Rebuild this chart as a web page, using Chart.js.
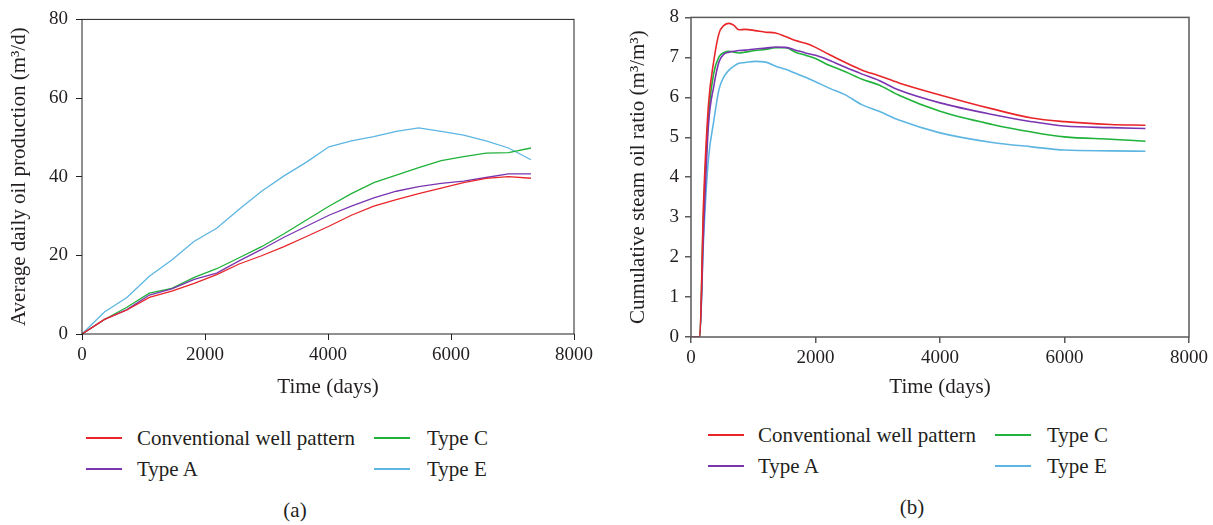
<!DOCTYPE html>
<html>
<head>
<meta charset="utf-8">
<script src="https://cdn.jsdelivr.net/npm/chart.js@4/dist/chart.umd.min.js"></script>
<style>
  body { margin: 0; background: #fff; }
  #page { position: relative; width: 1213px; height: 525px; overflow: hidden; font-family: 'Liberation Serif', serif; color: #231f20; }
  canvas { position: absolute; top: 0; }
  .key { position: absolute; font-size: 21px; line-height: 24px; white-space: nowrap; }
  .swatch { position: absolute; width: 36px; height: 2px; }
  .caption { position: absolute; font-size: 21px; line-height: 24px; transform: translateX(-50%); }
</style>
</head>
<body>
<div id="page">
  <canvas id="prodChart" width="600" height="400" style="left:0"></canvas>
  <canvas id="sorChart" width="613" height="400" style="left:600px"></canvas>
</div>
<script>
// series names and colours shared by both panels
const seriesNames = ['Conventional well pattern', 'Type A', 'Type C', 'Type E'];
const seriesColors = ['#e8262a', '#7a35b0', '#20b23a', '#5db6e2'];

// (a) average daily oil production, sampled yearly
const prodDays = [0, 365, 730, 1095, 1460, 1825, 2190, 2555, 2920, 3285, 3650, 4015, 4380, 4745, 5110, 5475, 5840, 6205, 6570, 6935, 7300];
const prodConventional = [0, 3.7, 6.1, 9.3, 10.9, 12.9, 15.1, 17.8, 19.9, 22.2, 24.8, 27.4, 30.2, 32.5, 34.2, 35.7, 37.1, 38.5, 39.6, 40.0, 39.6];
const prodTypeA = [0, 3.7, 6.2, 9.9, 11.5, 13.9, 15.5, 18.6, 21.5, 24.6, 27.4, 30.2, 32.5, 34.6, 36.3, 37.5, 38.3, 38.9, 39.8, 40.7, 40.7];
const prodTypeC = [0, 3.7, 6.8, 10.4, 11.6, 14.4, 16.6, 19.4, 22.2, 25.5, 29.0, 32.5, 35.7, 38.5, 40.4, 42.3, 44.1, 45.1, 46.0, 46.1, 47.3];
const prodTypeE = [0, 5.6, 9.3, 14.7, 18.8, 23.6, 26.9, 31.7, 36.3, 40.2, 43.7, 47.6, 49.1, 50.2, 51.5, 52.4, 51.5, 50.6, 49.1, 47.3, 44.3];

// (b) cumulative steam oil ratio
const sorDays = [0, 140, 200, 280, 365, 450, 530, 610, 690, 770, 870, 1030, 1200, 1360, 1520, 1680, 1840, 2000, 2220, 2480, 2750, 3020, 3340, 4000, 4840, 5475, 6000, 6740, 7300];
const sorConventional = [0, 0, 3.3, 5.8, 6.9, 7.6, 7.8, 7.85, 7.8, 7.69, 7.7, 7.67, 7.63, 7.61, 7.52, 7.42, 7.35, 7.25, 7.07, 6.87, 6.68, 6.54, 6.36, 6.06, 5.71, 5.48, 5.39, 5.32, 5.30];
const sorTypeA = [0, 0, 2.6, 5.3, 6.27, 6.89, 7.08, 7.13, 7.15, 7.17, 7.18, 7.21, 7.23, 7.26, 7.25, 7.18, 7.11, 7.05, 6.93, 6.75, 6.58, 6.42, 6.18, 5.86, 5.57, 5.39, 5.28, 5.24, 5.22];
const sorTypeC = [0, 0, 3.05, 5.5, 6.6, 7.01, 7.12, 7.15, 7.13, 7.11, 7.13, 7.17, 7.2, 7.24, 7.24, 7.13, 7.05, 6.97, 6.8, 6.64, 6.45, 6.31, 6.05, 5.65, 5.32, 5.13, 5.01, 4.95, 4.9];
const sorTypeE = [0, 0, 2.4, 4.45, 5.4, 6.2, 6.52, 6.68, 6.78, 6.85, 6.87, 6.9, 6.88, 6.78, 6.7, 6.6, 6.5, 6.39, 6.23, 6.06, 5.81, 5.65, 5.43, 5.11, 4.87, 4.76, 4.68, 4.66, 4.65];

const textColor = '#231f20';
const serif = 'Liberation Serif';

// box round the plot area
const framePlugin = {
  id: 'frame',
  afterDraw(chart, args, opts) {
    const { ctx, chartArea: a } = chart;
    ctx.save();
    ctx.strokeStyle = opts.color;
    ctx.lineWidth = opts.width;
    ctx.strokeRect(a.left, a.top, a.right - a.left, a.bottom - a.top);
    ctx.restore();
  }
};

function toPoints(xs, ys) {
  return xs.map((x, i) => ({ x: x, y: ys[i] }));
}

function makeDatasets(xs, seriesList, width, smooth) {
  return seriesList.map((ys, i) => ({
    label: seriesNames[i],
    data: toPoints(xs, ys),
    borderColor: seriesColors[i],
    borderWidth: width,
    pointRadius: 0,
    fill: false,
    cubicInterpolationMode: smooth ? 'monotone' : 'default',
    tension: 0
  }));
}

function createPanel(canvasId, cfg) {
  const ctx = document.getElementById(canvasId).getContext('2d');
  return new Chart(ctx, {
    type: 'line',
    data: { datasets: cfg.datasets },
    options: {
      responsive: false,
      animation: false,
      layout: { padding: { left: 0, right: cfg.padRight, top: 13, bottom: 0 } },
      plugins: {
        legend: { display: false },
        tooltip: { enabled: false },
        frame: { color: cfg.axisColor, width: cfg.axisWidth }
      },
      scales: {
        x: {
          type: 'linear',
          min: 0,
          max: 8000,
          border: { display: false },
          grid: { drawOnChartArea: false, tickLength: 6, tickColor: cfg.axisColor, lineWidth: cfg.axisWidth },
          ticks: { stepSize: 2000, color: textColor, padding: 4, maxRotation: 0, format: { useGrouping: false }, font: { family: serif, size: 19 } },
          title: { display: true, text: 'Time (days)', color: textColor, padding: { top: 0, bottom: 0 }, font: { family: serif, size: 21 } },
          afterFit(scale) { scale.height = cfg.xHeight; }
        },
        y: {
          min: 0,
          max: cfg.yMax,
          border: { display: false },
          grid: { drawOnChartArea: false, tickLength: 6, tickColor: cfg.axisColor, lineWidth: cfg.axisWidth },
          ticks: { stepSize: cfg.yStep, color: textColor, padding: cfg.yTickPad, font: { family: serif, size: 19 } },
          title: { display: true, text: cfg.yTitle, color: textColor, padding: { top: cfg.yTitlePad, bottom: 0 }, font: { family: serif, size: 21 } },
          afterFit(scale) { scale.width = cfg.yWidth; }
        }
      }
    },
    plugins: [framePlugin]
  });
}

createPanel('prodChart', {
  datasets: makeDatasets(prodDays, [prodConventional, prodTypeA, prodTypeC, prodTypeE], 1.3, false),
  yMax: 80, yStep: 20,
  yTitle: 'Average daily oil production (m³/d)',
  yWidth: 82, xHeight: 66, padRight: 26,
  yTickPad: 8, yTitlePad: 7,
  axisColor: '#231f20', axisWidth: 1
});

createPanel('sorChart', {
  datasets: makeDatasets(sorDays, [sorConventional, sorTypeA, sorTypeC, sorTypeE], 1.6, true),
  yMax: 8, yStep: 1,
  yTitle: 'Cumulative steam oil ratio (m³/m³)',
  yWidth: 91, xHeight: 63, padRight: 24,
  yTickPad: 6, yTitlePad: 26,
  axisColor: '#5a5a5a', axisWidth: 1.5
});

// legends and captions under each panel
const page = document.getElementById('page');
function addLegend(cols, rows) {
  // column 1 holds entries 0 and 1, column 2 holds 2 and 3
  seriesNames.forEach((name, i) => {
    const col = cols[Math.floor(i / 2)];
    const rowY = rows[i % 2];
    const sw = document.createElement('div');
    sw.className = 'swatch';
    sw.style.left = col.line + 'px';
    sw.style.top = (rowY - 1) + 'px';
    sw.style.backgroundColor = seriesColors[i];
    page.appendChild(sw);
    const t = document.createElement('div');
    t.className = 'key';
    t.style.left = col.text + 'px';
    t.style.top = (rowY - 12) + 'px';
    t.textContent = name;
    page.appendChild(t);
  });
}
function addCaption(text, x, y) {
  const c = document.createElement('div');
  c.className = 'caption';
  c.style.left = x + 'px';
  c.style.top = (y - 12) + 'px';
  c.textContent = text;
  page.appendChild(c);
}

addLegend([{ line: 86, text: 137 }, { line: 374, text: 427 }], [438, 469]);
addLegend([{ line: 708, text: 758 }, { line: 995, text: 1047 }], [435, 466]);
addCaption('(a)', 295, 510);
addCaption('(b)', 912, 507);
</script>
</body>
</html>
